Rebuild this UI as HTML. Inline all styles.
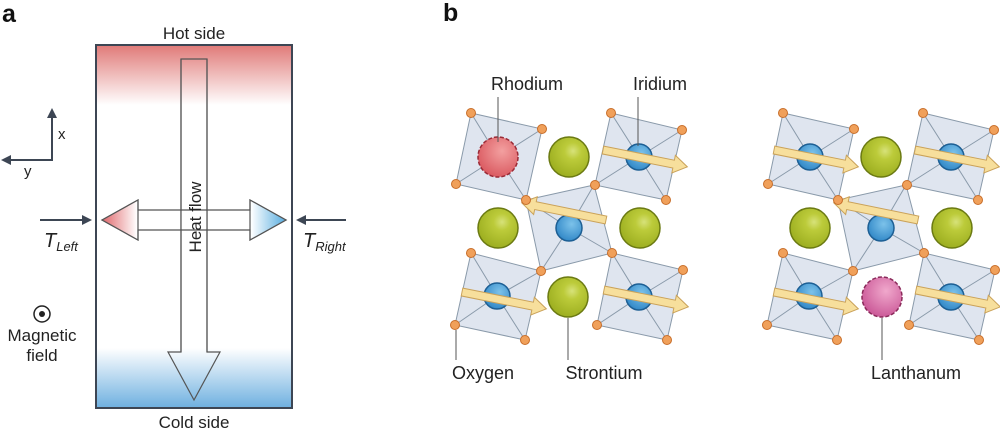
<!DOCTYPE html>
<html><head><meta charset="utf-8"><style>
html,body{margin:0;padding:0;background:#fff;}
svg{display:block;font-family:"Liberation Sans",sans-serif;}
</style></head><body>
<svg width="1000" height="429" viewBox="0 0 1000 429" xmlns="http://www.w3.org/2000/svg">
<defs>
<linearGradient id="hot" x1="0" y1="0" x2="0" y2="1">
<stop offset="0" stop-color="#e07a78"/><stop offset="1" stop-color="#fff"/></linearGradient>
<linearGradient id="cold" x1="0" y1="0" x2="0" y2="1">
<stop offset="0" stop-color="#fff"/><stop offset="1" stop-color="#6eb0e0"/></linearGradient>
<linearGradient id="lg" x1="0" y1="0" x2="1" y2="0">
<stop offset="0" stop-color="#e06a6e"/><stop offset="1" stop-color="#fff"/></linearGradient>
<linearGradient id="rg" x1="0" y1="0" x2="1" y2="0">
<stop offset="0" stop-color="#fff"/><stop offset="1" stop-color="#5aaee0"/></linearGradient>
<radialGradient id="gr" cx="0.6" cy="0.35" r="0.7">
<stop offset="0" stop-color="#d7e27a"/><stop offset="0.3" stop-color="#bccb3a"/><stop offset="1" stop-color="#9aac1e"/></radialGradient>
<radialGradient id="bl" cx="0.6" cy="0.35" r="0.7">
<stop offset="0" stop-color="#7cc2ea"/><stop offset="1" stop-color="#2f86c6"/></radialGradient>
<radialGradient id="rd" cx="0.6" cy="0.35" r="0.7">
<stop offset="0" stop-color="#f3a0a0"/><stop offset="1" stop-color="#d9575e"/></radialGradient>
<radialGradient id="pk" cx="0.6" cy="0.35" r="0.7">
<stop offset="0" stop-color="#f0a8cc"/><stop offset="1" stop-color="#c95595"/></radialGradient>
<g id="yarr"><polygon points="0,-4 72,-4 72,-9 86,0 72,9 72,4 0,4" fill="#f7df9c" stroke="#caa25a" stroke-width="1"/></g>
</defs>

<text x="2" y="22" font-size="25" font-weight="bold" fill="#111">a</text>
<text x="443" y="21" font-size="25" font-weight="bold" fill="#111">b</text>

<!-- panel a -->
<rect x="96" y="45" width="196" height="60" fill="url(#hot)"/>
<rect x="96" y="348" width="196" height="60" fill="url(#cold)"/>
<rect x="96" y="45" width="196" height="363" fill="none" stroke="#3d4654" stroke-width="2"/>
<text x="194" y="39" font-size="17" text-anchor="middle" fill="#222">Hot side</text>
<text x="194" y="428" font-size="17" text-anchor="middle" fill="#222">Cold side</text>
<!-- horizontal double arrow -->
<polygon points="102,220 138,200 138,210 250,210 250,200 286,220 250,240 250,230 138,230 138,240" fill="#fff" stroke="#555" stroke-width="1.2"/>
<polygon points="103,220 137,201 137,239" fill="url(#lg)"/>
<polygon points="285,220 251,201 251,239" fill="url(#rg)"/>
<polygon points="102,220 138,200 138,240" fill="none" stroke="#555" stroke-width="1.2"/>
<polygon points="286,220 250,200 250,240" fill="none" stroke="#555" stroke-width="1.2"/>
<!-- vertical arrow -->
<polygon points="181,59 207,59 207,352 220,352 194,400 168,352 181,352" fill="none" stroke="#555" stroke-width="1.2"/>
<rect x="181.6" y="211" width="24.8" height="18" fill="#fff"/>
<line x1="181" y1="59" x2="181" y2="352" stroke="#555" stroke-width="1.2"/>
<line x1="207" y1="59" x2="207" y2="352" stroke="#555" stroke-width="1.2"/>
<text transform="translate(201,217) rotate(-90)" font-size="17" text-anchor="middle" fill="#222">Heat flow</text>
<!-- axes -->
<g stroke="#3d4654" stroke-width="2" fill="#3d4654">
<polyline points="52,114 52,160 6,160" fill="none"/>
<polygon points="52,108 47,118 57,118" stroke="none"/>
<polygon points="1,160 11,155 11,165" stroke="none"/>
<line x1="40" y1="220" x2="86" y2="220"/>
<polygon points="92,220 82,215 82,225" stroke="none"/>
<line x1="346" y1="220" x2="302" y2="220"/>
<polygon points="296,220 306,215 306,225" stroke="none"/>
</g>
<text x="58" y="139" font-size="15" fill="#222">x</text>
<text x="24" y="176" font-size="15" fill="#222">y</text>
<text x="44" y="247" font-size="20" font-style="italic" fill="#222">T<tspan font-size="13" dy="4">Left</tspan></text>
<text x="303" y="247" font-size="20" font-style="italic" fill="#222">T<tspan font-size="13" dy="4">Right</tspan></text>
<circle cx="42" cy="314" r="8" fill="none" stroke="#222" stroke-width="1.5"/>
<circle cx="42" cy="314" r="3" fill="#222"/>
<text x="42" y="341" font-size="17" text-anchor="middle" fill="#222">Magnetic</text>
<text x="42" y="361" font-size="17" text-anchor="middle" fill="#222">field</text>

<!-- panel b: base lattice -->
<g id="lat">
<g stroke="#8a9aaa" stroke-width="1" fill="#dfe5ef">
<polygon points="594,185 612,253 541,271 526,200"/>
<polygon points="471,253 541,271 525,340 455,325"/>
<polygon points="612,253 683,270 667,340 597,325"/>
<polygon points="611,113 682,130 666,200 595,185"/>
<polygon points="471,113 542,129 526,200 456,184"/>
</g>
<g stroke="#8a9aaa" stroke-width="1">
<path d="M594,185L569,228M612,253L569,228M541,271L569,228M526,200L569,228"/>
<path d="M471,253L497,296M541,271L497,296M525,340L497,296M455,325L497,296"/>
<path d="M612,253L639,297M683,270L639,297M667,340L639,297M597,325L639,297"/>
<path d="M611,113L639,157M682,130L639,157M666,200L639,157M595,185L639,157"/>
<path d="M471,113L498,157M542,129L498,157M526,200L498,157M456,184L498,157"/>
</g>
<g fill="url(#bl)" stroke="#1d5f94" stroke-width="1.5">
<circle cx="569" cy="228" r="13"/><circle cx="497" cy="296" r="13"/>
<circle cx="639" cy="297" r="13"/><circle cx="639" cy="157" r="13"/>
</g>
<g fill="url(#gr)" stroke="#6b7a12" stroke-width="1.5">
<circle cx="569" cy="157" r="20"/><circle cx="498" cy="228" r="20"/><circle cx="640" cy="228" r="20"/>
</g>
<use href="#yarr" transform="translate(603,150) rotate(11.3)"/>
<use href="#yarr" transform="translate(606,220) rotate(191.5)"/>
<use href="#yarr" transform="translate(462,292) rotate(11.3)"/>
<use href="#yarr" transform="translate(604,290) rotate(11.3)"/>
<g fill="#f0a05a" stroke="#c86e2a" stroke-width="1">
<circle cx="471" cy="113" r="4.5"/><circle cx="542" cy="129" r="4.5"/><circle cx="526" cy="200" r="4.5"/><circle cx="456" cy="184" r="4.5"/>
<circle cx="611" cy="113" r="4.5"/><circle cx="682" cy="130" r="4.5"/><circle cx="666" cy="200" r="4.5"/><circle cx="595" cy="185" r="4.5"/>
<circle cx="612" cy="253" r="4.5"/><circle cx="541" cy="271" r="4.5"/>
<circle cx="471" cy="253" r="4.5"/><circle cx="525" cy="340" r="4.5"/><circle cx="455" cy="325" r="4.5"/>
<circle cx="683" cy="270" r="4.5"/><circle cx="667" cy="340" r="4.5"/><circle cx="597" cy="325" r="4.5"/>
</g>
</g>
<!-- left-specific -->
<circle cx="498" cy="157" r="20" fill="url(#rd)" stroke="#9a2a36" stroke-width="1.5" stroke-dasharray="4,2"/>
<circle cx="568" cy="297" r="20" fill="url(#gr)" stroke="#6b7a12" stroke-width="1.5"/>
<!-- right lattice -->
<use href="#lat" transform="translate(312,0)"/>
<circle cx="810" cy="157" r="13" fill="url(#bl)" stroke="#1d5f94" stroke-width="1.5"/>
<use href="#yarr" transform="translate(774,150) rotate(11.3)"/>
<circle cx="882" cy="297" r="20" fill="url(#pk)" stroke="#8a2a5a" stroke-width="1.5" stroke-dasharray="4,2"/>

<!-- labels -->
<g stroke="#555" stroke-width="1">
<line x1="498" y1="97" x2="498" y2="142"/>
<line x1="638" y1="97" x2="638" y2="146"/>
<line x1="456" y1="330" x2="456" y2="360"/>
<line x1="568" y1="318" x2="568" y2="360"/>
<line x1="882" y1="318" x2="882" y2="360"/>
</g>
<g font-size="18" fill="#222" text-anchor="middle">
<text x="527" y="90">Rhodium</text>
<text x="660" y="90">Iridium</text>
<text x="483" y="379">Oxygen</text>
<text x="604" y="379">Strontium</text>
<text x="916" y="379">Lanthanum</text>
</g>
</svg>
</body></html>
